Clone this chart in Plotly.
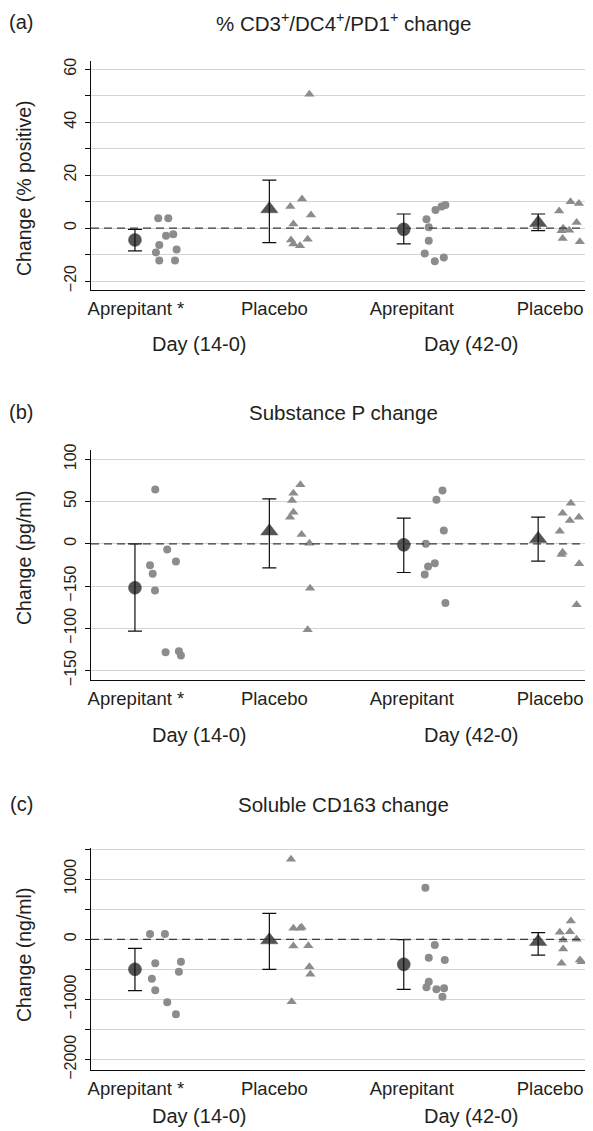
import plotly.graph_objects as go

# ---------------- data ----------------
groups = ["Aprepitant *", "Placebo", "Aprepitant", "Placebo"]
days = ["Day (14-0)", "Day (42-0)"]
group_index = [1, 2, 3, 4]
label_index = [1.007, 2.037, 3.060, 4.089]
day_index = [1.48, 3.50]

# (a) % CD3+/DC4+/PD1+ change
cd3_vals = [
    [3.7, 3.7, -2.9, -2.3, -6.4, -9.2, -8.1, -12.3, -12.3],
    [50.5, 8.1, 11.0, 4.9, 1.5, -4.5, -6.0, -6.7, -4.2],
    [3.3, 0.3, 6.8, 8.1, 8.7, -4.8, -9.6, -12.5, -11.1],
    [6.4, 9.9, 9.3, 2.1, -1.0, -0.1, -0.8, -3.9, -5.2],
]
cd3_jit = [
    [0.173, 0.248, 0.231, 0.285, 0.181, 0.156, 0.310, 0.181, 0.298],
    [0.298, 0.156, 0.243, 0.310, 0.179, 0.161, 0.179, 0.228, 0.285],
    [0.169, 0.186, 0.236, 0.281, 0.310, 0.186, 0.156, 0.231, 0.298],
    [0.156, 0.241, 0.303, 0.286, 0.174, 0.186, 0.231, 0.182, 0.310],
]
cd3_mean = [-4.5, 7.2, -0.5, 2.0]
cd3_hi = [-0.5, 18.1, 5.3, 5.3]
cd3_lo = [-8.6, -5.5, -6.0, -1.0]
cd3_ticks = [-20, 0, 20, 40, 60]
cd3_ticktext = ["\u221220", "0", "20", "40", "60"]
cd3_minor = [-10, 10, 30, 50]

# (b) Substance P change
sp_vals = [
    [64.3, -6.7, -21.0, -25.3, -35.5, -55.3, -128.3, -127.1, -132.2],
    [69.8, 59.9, 51.2, 37.4, 31.5, 11.0, 0.7, -52.5, -101.8],
    [63.1, 52.0, 15.7, 0.0, -26.8, -22.9, -36.3, -70.2],
    [48.1, 36.2, 27.6, 31.5, 14.9, -9.9, -12.7, -23.7, -72.2],
]
sp_jit = [
    [0.151, 0.240, 0.305, 0.112, 0.132, 0.149, 0.228, 0.327, 0.342],
    [0.231, 0.179, 0.169, 0.179, 0.154, 0.240, 0.298, 0.303, 0.285],
    [0.288, 0.243, 0.298, 0.164, 0.181, 0.231, 0.156, 0.310],
    [0.243, 0.182, 0.236, 0.303, 0.161, 0.182, 0.174, 0.305, 0.286],
]
sp_mean = [-52.0, 14.9, -1.2, 5.9]
sp_hi = [0.0, 53.2, 30.3, 31.5]
sp_lo = [-103.4, -28.4, -34.0, -20.6]
sp_ticks = [-150, -100, -50, 0, 50, 100]
sp_ticktext = ["\u2212150", "\u2212100", "\u2212150", "0", "50", "100"]
sp_minor = []

# (c) Soluble CD163 change
cd163_vals = [
    [88, 88, -399, -372, -538, -654, -847, -1047, -1246],
    [1329, 183, 183, 199, -111, -106, -455, -581, -1036],
    [857, -95, -305, -344, -704, -797, -830, -814, -953],
    [304, 116, 126, -12, 0, -161, -399, -344, -372],
]
cd163_jit = [
    [0.112, 0.223, 0.151, 0.342, 0.327, 0.126, 0.151, 0.240, 0.305],
    [0.161, 0.179, 0.228, 0.240, 0.179, 0.290, 0.298, 0.305, 0.166],
    [0.161, 0.231, 0.186, 0.305, 0.186, 0.169, 0.243, 0.300, 0.288],
    [0.243, 0.161, 0.236, 0.186, 0.286, 0.186, 0.174, 0.310, 0.323],
]
cd163_mean = [-498, -12, -415, -40]
cd163_hi = [-150, 432, -5, 110]
cd163_lo = [-853, -498, -830, -261]
cd163_ticks = [-2000, -1000, 0, 1000]
cd163_ticktext = ["\u22122000", "\u22121000", "0", "1000"]
cd163_minor = [-1500, -500, 500, 1500]

# ---------------- layout helpers ----------------
OFF = 8                      # page body margin of the html page
W, H = 593 - OFF, 1131 - OFF  # figure size so it ends at the window edge
FONT = "Liberation Sans, Arial, Helvetica, sans-serif"
TXT = "#231f20"
GRAY = "#8c8c8c"
BLACK = "#0d0d0d"
GRID = "#d4d4d4"


def fx(p):
    return (p - OFF) / W


def fy(p):
    return 1 - (p - OFF) / H


panels = [
    dict(vals=cd3_vals, jit=cd3_jit, mean=cd3_mean, hi=cd3_hi, lo=cd3_lo,
         ticks=cd3_ticks, ticktext=cd3_ticktext, minor=cd3_minor, yrange=[-23.4, 63.1],
         top=61, bottom=290, letter="(a)",
         title="% CD3<sup>+</sup>/DC4<sup>+</sup>/PD1<sup>+</sup> change",
         ytitle="Change (% positive)", title_y=22, ytitle_y=188, day_y=344),
    dict(vals=sp_vals, jit=sp_jit, mean=sp_mean, hi=sp_hi, lo=sp_lo,
         ticks=sp_ticks, ticktext=sp_ticktext, minor=sp_minor, yrange=[-161.2, 111.0],
         top=450, bottom=680, letter="(b)", title="Substance P change",
         ytitle="Change (pg/ml)", title_y=412, ytitle_y=558, day_y=735),
    dict(vals=cd163_vals, jit=cd163_jit, mean=cd163_mean, hi=cd163_hi, lo=cd163_lo,
         ticks=cd163_ticks, ticktext=cd163_ticktext, minor=cd163_minor, yrange=[-2171, 1517],
         top=848, bottom=1070, letter="(c)", title="Soluble CD163 change",
         ytitle="Change (ng/ml)", title_y=804, ytitle_y=955, day_y=1116),
]

point_symbols = ["circle", "triangle-up", "circle", "triangle-up"]
point_sizes = [8, 9, 8, 9]
mean_sizes = [13, 15, 13, 15]

fig = go.Figure()
annotations = []
shapes = []
layout_axes = {}

for p_i, p in enumerate(panels):
    sfx = "" if p_i == 0 else str(p_i + 1)
    xa, ya = "x" + sfx, "y" + sfx
    # individual points
    for g in range(4):
        fig.add_trace(go.Scatter(
            x=[group_index[g] + j for j in p["jit"][g]],
            y=p["vals"][g],
            mode="markers", xaxis=xa, yaxis=ya, showlegend=False,
            marker=dict(symbol=point_symbols[g], size=point_sizes[g], color=GRAY,
                        line=dict(width=0)),
            hoverinfo="y",
        ))
    # means with CIs
    fig.add_trace(go.Scatter(
        x=group_index, y=p["mean"], mode="markers", xaxis=xa, yaxis=ya,
        showlegend=False,
        marker=dict(symbol=point_symbols, size=mean_sizes, color=BLACK,
                    line=dict(width=0.5, color=BLACK)),
        error_y=dict(type="data", symmetric=False,
                     array=[h - m for h, m in zip(p["hi"], p["mean"])],
                     arrayminus=[m - l for m, l in zip(p["mean"], p["lo"])],
                     color=BLACK, thickness=1.2, width=7),
        hoverinfo="y",
    ))
    # dashed zero line
    shapes.append(dict(type="line", xref=xa + " domain", yref=ya,
                       x0=0, x1=1, y0=0, y1=0, layer="above",
                       line=dict(color="#3a3a3a", width=1.2, dash="8px,5px")))

    layout_axes["xaxis" + sfx] = dict(
        domain=[fx(91), 1], anchor=ya, range=[0.673, 4.408],
        showgrid=False, zeroline=False, showline=True, linecolor=BLACK, linewidth=1.2,
        tickmode="array", tickvals=label_index, ticktext=groups, ticks="",
        tickfont=dict(family=FONT, size=18.5, color=TXT), automargin=False,
        ticklabelstandoff=2, fixedrange=True,
    )
    yax = dict(
        domain=[fy(p["bottom"]), fy(p["top"])], anchor=xa, range=p["yrange"],
        showgrid=True, gridcolor=GRID, gridwidth=1, zeroline=False,
        showline=True, linecolor=BLACK, linewidth=1.2,
        tickmode="array", tickvals=p["ticks"], ticktext=p["ticktext"],
        ticks="outside", ticklen=5, tickwidth=1, tickcolor=BLACK, tickangle=-90,
        tickfont=dict(family=FONT, size=16, color=TXT), automargin=False,
        ticklabelstandoff=3, fixedrange=True,
    )
    if p["minor"]:
        yax["minor"] = dict(tickmode="array", tickvals=p["minor"], ticks="outside",
                            ticklen=5, tickwidth=1, tickcolor=BLACK,
                            showgrid=True, gridcolor=GRID, gridwidth=1)
    layout_axes["yaxis" + sfx] = yax

    annotations += [
        dict(text=p["letter"], x=fx(21), y=fy(p["title_y"]), xref="paper", yref="paper",
             xanchor="center", yanchor="middle", showarrow=False,
             font=dict(family=FONT, size=20, color=TXT)),
        dict(text=p["title"], x=fx(343), y=fy(p["title_y"]), xref="paper", yref="paper",
             xanchor="center", yanchor="middle", showarrow=False,
             font=dict(family=FONT, size=20.5, color=TXT)),
        dict(text=p["ytitle"], x=fx(24), y=fy(p["ytitle_y"]), xref="paper", yref="paper",
             xanchor="center", yanchor="middle", showarrow=False, textangle=-90,
             font=dict(family=FONT, size=19.5, color=TXT)),
    ]
    for d_i, d in enumerate(days):
        annotations.append(dict(
            text=d, x=day_index[d_i], y=fy(p["day_y"]), xref=xa, yref="paper",
            xanchor="center", yanchor="middle", showarrow=False,
            font=dict(family=FONT, size=20, color=TXT)))

fig.update_layout(
    width=W, height=H, margin=dict(l=0, r=0, t=0, b=0),
    paper_bgcolor="white", plot_bgcolor="white",
    annotations=annotations, shapes=shapes, showlegend=False,
    **layout_axes,
)

fig.write_html("out.html")
